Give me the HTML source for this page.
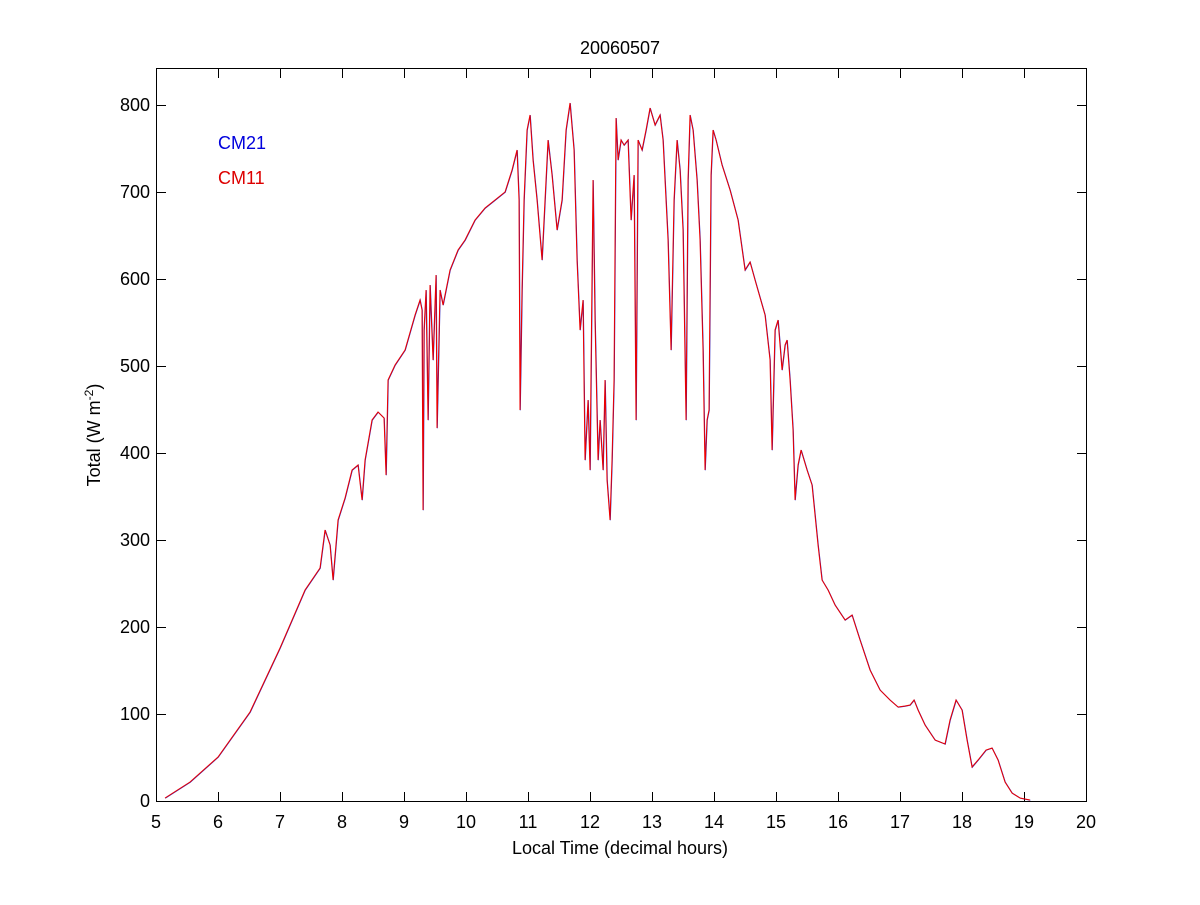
<!DOCTYPE html>
<html><head><style>
body{margin:0;background:#fff;}
svg text{font-family:"Liberation Sans",Arial,sans-serif;}
</style></head><body>
<svg width="1200" height="900" xmlns="http://www.w3.org/2000/svg">
<rect width="1200" height="900" fill="#fff"/>
<g stroke="#000" stroke-width="1" fill="none">
<rect x="156.5" y="68.5" width="930" height="733"/>
<path d="M218.5 801v-9M280.5 801v-9M342.5 801v-9M404.5 801v-9M466.5 801v-9M528.5 801v-9M590.5 801v-9M652.5 801v-9M714.5 801v-9M776.5 801v-9M838.5 801v-9M900.5 801v-9M962.5 801v-9M1024.5 801v-9
M218.5 69v9M280.5 69v9M342.5 69v9M404.5 69v9M466.5 69v9M528.5 69v9M590.5 69v9M652.5 69v9M714.5 69v9M776.5 69v9M838.5 69v9M900.5 69v9M962.5 69v9M1024.5 69v9
M157 714.5h9M157 627.5h9M157 540.5h9M157 453.5h9M157 366.5h9M157 279.5h9M157 192.5h9M157 105.5h9
M1086 714.5h-9M1086 627.5h-9M1086 540.5h-9M1086 453.5h-9M1086 366.5h-9M1086 279.5h-9M1086 192.5h-9M1086 105.5h-9"/>
</g>
<g font-size="18" fill="#000" text-anchor="middle">
<text x="156" y="828">5</text><text x="218" y="828">6</text><text x="280" y="828">7</text><text x="342" y="828">8</text><text x="404" y="828">9</text><text x="466" y="828">10</text><text x="528" y="828">11</text><text x="590" y="828">12</text><text x="652" y="828">13</text><text x="714" y="828">14</text><text x="776" y="828">15</text><text x="838" y="828">16</text><text x="900" y="828">17</text><text x="962" y="828">18</text><text x="1024" y="828">19</text><text x="1086" y="828">20</text>
</g>
<g font-size="18" fill="#000" text-anchor="end">
<text x="150" y="807">0</text><text x="150" y="720">100</text><text x="150" y="633">200</text><text x="150" y="546">300</text><text x="150" y="459">400</text><text x="150" y="372">500</text><text x="150" y="285">600</text><text x="150" y="198">700</text><text x="150" y="111">800</text>
</g>
<text x="620" y="54" font-size="18" text-anchor="middle">20060507</text>
<text x="620" y="854" font-size="18" text-anchor="middle">Local Time (decimal hours)</text>
<text transform="translate(100,435) rotate(-90)" font-size="18" text-anchor="middle">Total (W m<tspan font-size="12" dy="-7">-2</tspan><tspan dy="7">)</tspan></text>
<text x="218" y="149" font-size="18" fill="#0000dd">CM21</text>
<text x="218" y="184" font-size="18" fill="#dd0000">CM11</text>
<polyline fill="none" stroke="#2020c0" stroke-width="1" transform="translate(0.3,0.2)" points="165,798 190,782 218,757 250,712 280,648 305,590 320,568 325,530 330,545 333,580 338,520 345,498 352,470 358,465 362,500 365,460 372,420 378,412 384,418 386,475 388,380 395,365 405,350 415,315 420,300 422,310 423,510 424,330 426,290 428,420 430,285 433,360 436,275 437,428 440,290 443,305 450,270 458,250 465,240 475,220 485,208 495,200 505,192 512,170 517,150 519,200 520,410 522,290 524,200 527,130 530,115 533,160 537,200 542,260 545,200 548,140 552,175 557,230 562,200 566,130 570,103 574,150 577,260 580,330 583,300 585,460 588,400 590,470 593,180 595,320 598,460 600,420 603,470 605,380 607,480 610,520 612,460 614,380 616,118 618,160 621,140 624,145 628,140 631,220 634,175 636,420 638,140 642,150 646,130 650,108 655,125 660,115 663,140 668,240 671,350 674,200 677,140 680,170 683,230 686,420 688,180 690,115 693,130 697,180 700,240 703,350 705,470 707,420 709,410 711,175 713,130 716,140 722,165 730,190 738,220 745,270 750,262 755,280 765,315 770,360 772,450 775,330 778,320 782,370 785,345 787,340 790,380 793,430 795,500 798,465 801,450 804,460 807,470 812,485 818,545 822,580 828,590 835,605 845,620 852,615 860,640 870,670 880,690 890,700 898,707 905,706 910,705 914,700 918,710 925,725 935,740 945,744 950,720 956,700 962,710 967,740 972,767 978,760 982,755 986,750 992,748 998,760 1005,782 1012,793 1020,798 1030,800"/>
<polyline fill="none" stroke="#ee0000" stroke-width="1" points="165,798 190,782 218,757 250,712 280,648 305,590 320,568 325,530 330,545 333,580 338,520 345,498 352,470 358,465 362,500 365,460 372,420 378,412 384,418 386,475 388,380 395,365 405,350 415,315 420,300 422,310 423,510 424,330 426,290 428,420 430,285 433,360 436,275 437,428 440,290 443,305 450,270 458,250 465,240 475,220 485,208 495,200 505,192 512,170 517,150 519,200 520,410 522,290 524,200 527,130 530,115 533,160 537,200 542,260 545,200 548,140 552,175 557,230 562,200 566,130 570,103 574,150 577,260 580,330 583,300 585,460 588,400 590,470 593,180 595,320 598,460 600,420 603,470 605,380 607,480 610,520 612,460 614,380 616,118 618,160 621,140 624,145 628,140 631,220 634,175 636,420 638,140 642,150 646,130 650,108 655,125 660,115 663,140 668,240 671,350 674,200 677,140 680,170 683,230 686,420 688,180 690,115 693,130 697,180 700,240 703,350 705,470 707,420 709,410 711,175 713,130 716,140 722,165 730,190 738,220 745,270 750,262 755,280 765,315 770,360 772,450 775,330 778,320 782,370 785,345 787,340 790,380 793,430 795,500 798,465 801,450 804,460 807,470 812,485 818,545 822,580 828,590 835,605 845,620 852,615 860,640 870,670 880,690 890,700 898,707 905,706 910,705 914,700 918,710 925,725 935,740 945,744 950,720 956,700 962,710 967,740 972,767 978,760 982,755 986,750 992,748 998,760 1005,782 1012,793 1020,798 1030,800"/>
</svg>
</body></html>
